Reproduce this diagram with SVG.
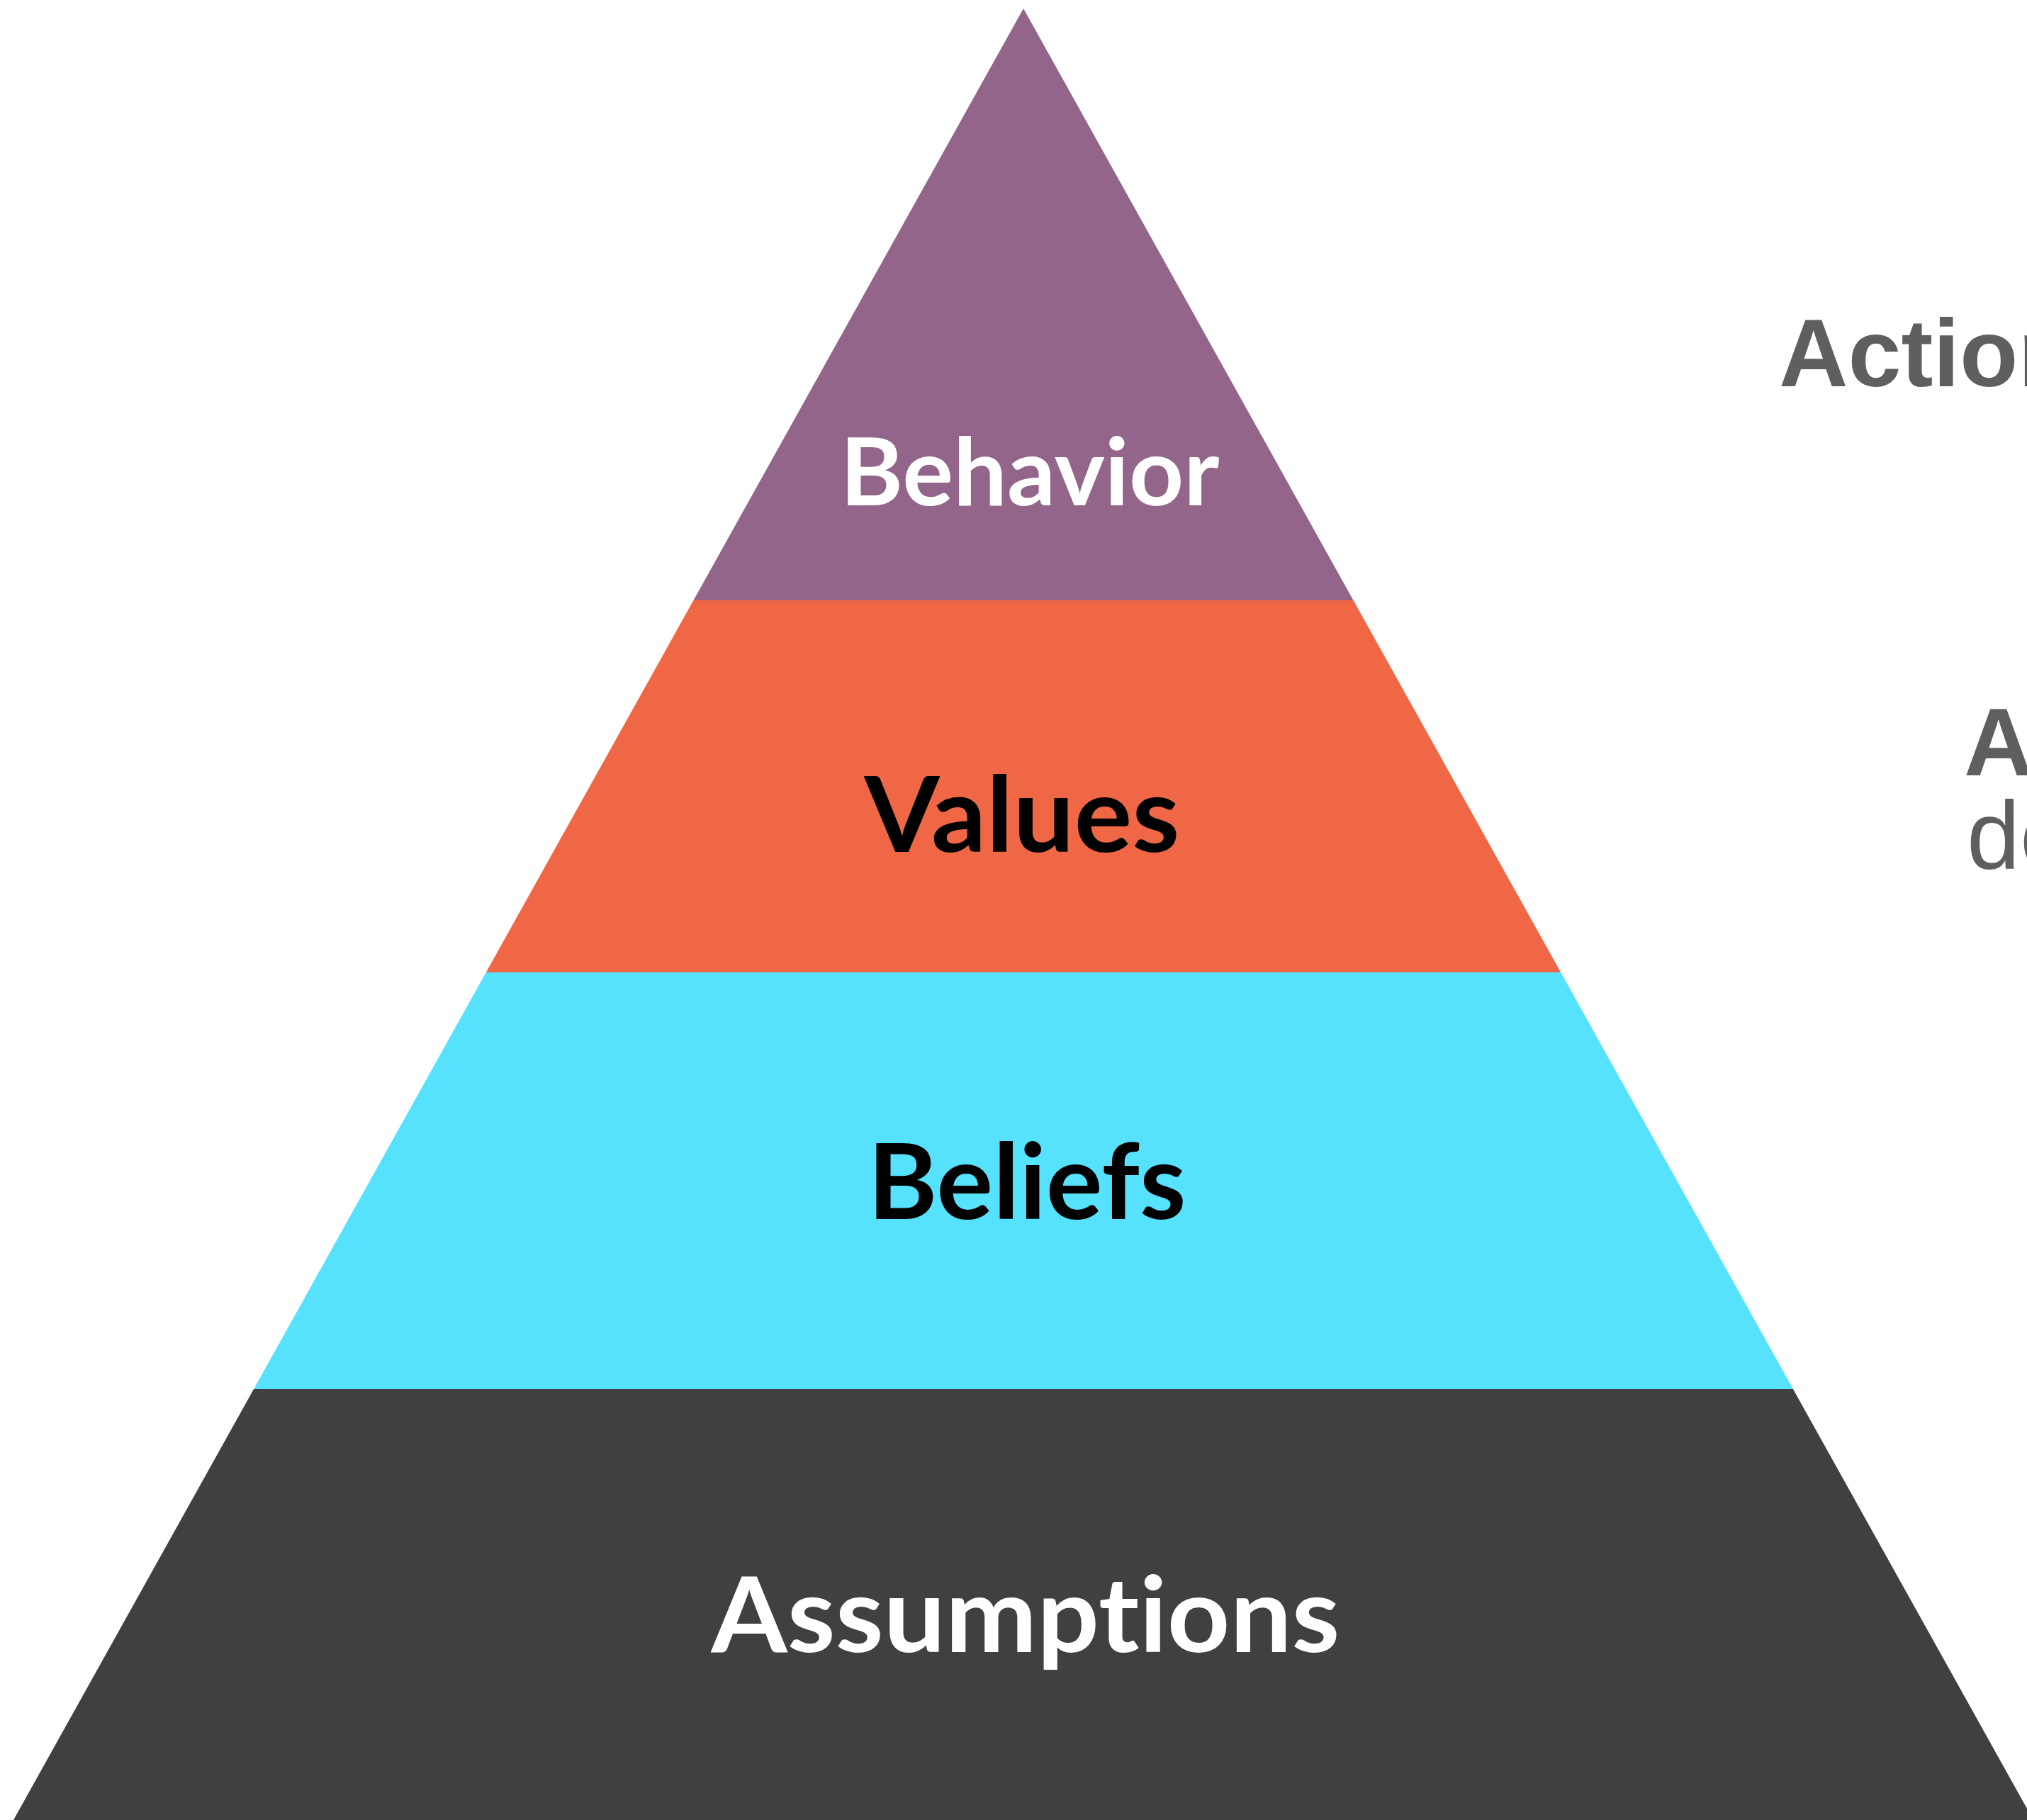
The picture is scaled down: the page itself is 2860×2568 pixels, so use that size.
<svg xmlns="http://www.w3.org/2000/svg" width="2860" height="2568" viewBox="0 0 2860 2568">
  <style>
    .lbl { font-family: Lato, "Open Sans", "Liberation Sans", sans-serif; font-weight: 700; text-anchor: middle; font-variant-ligatures: none; font-feature-settings: "liga" 0, "dlig" 0; }
    .side { font-family: "Liberation Sans", Arial, sans-serif; fill: #5f5f5f; font-size: 135px; }
  </style>
  <rect width="2860" height="2568" fill="#ffffff"/>
  <g id="behavior">
    <polygon points="1444,12 1909.5,847 978.5,847" fill="#93658A"/>
    <text class="lbl" x="1453" y="713" font-size="133" fill="#ffffff" textLength="535" lengthAdjust="spacingAndGlyphs">Behavior</text>
  </g>
  <g id="values">
    <polygon points="978.5,847 1909.5,847 2202.2,1372 685.8,1372" fill="#F06745"/>
    <text class="lbl" x="1442" y="1202" font-size="148" fill="#000000" textLength="445" lengthAdjust="spacingAndGlyphs">Values</text>
  </g>
  <g id="beliefs">
    <polygon points="685.8,1372 2202.2,1372 2530,1960 358,1960" fill="#56E1FD"/>
    <text class="lbl" x="1449" y="1720" font-size="148" fill="#000000" textLength="449" lengthAdjust="spacingAndGlyphs">Beliefs</text>
  </g>
  <g id="assumptions">
    <polygon points="358,1960 2530,1960 2869,2568 19,2568" fill="#404040"/>
    <text class="lbl" x="1447" y="2331" font-size="148" fill="#ffffff" textLength="887" lengthAdjust="spacingAndGlyphs">Assumptions</text>
  </g>
  <g id="side-labels">
    <text class="side" x="2510" y="545" font-weight="700">Action</text>
    <text class="side" x="2771" y="1094" font-weight="700">A</text>
    <text class="side" x="2775" y="1225">de</text>
  </g>
  <g id="connectors"/>
</svg>
